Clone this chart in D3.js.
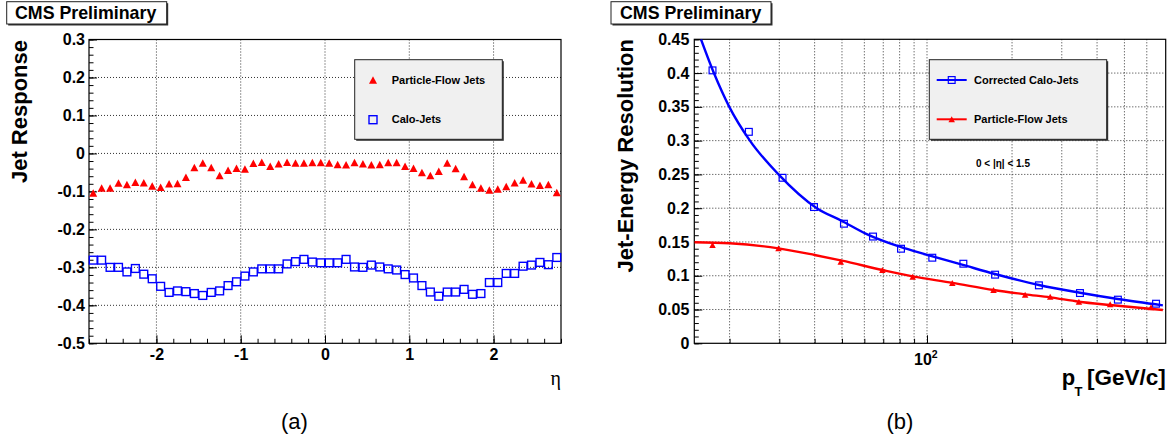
<!DOCTYPE html>
<html>
<head>
<meta charset="utf-8">
<script src="https://cdn.jsdelivr.net/npm/d3@7"></script>
<style>
  body { margin: 0; background: #fff; }
  svg { display: block; }
  text { font-family: "Liberation Sans", Arial, Helvetica, sans-serif; }
</style>
</head>
<body>
<svg id="chart" width="1172" height="441"></svg>
<script>
// ---------- panel (a): jet response vs eta ----------
const etaBins = [
  -2.75, -2.65, -2.55, -2.45, -2.35, -2.25, -2.15, -2.05, -1.95, -1.85,
  -1.75, -1.65, -1.55, -1.45, -1.35, -1.25, -1.15, -1.05, -0.95, -0.85,
  -0.75, -0.65, -0.55, -0.45, -0.35, -0.25, -0.15, -0.05,
   0.05,  0.15,  0.25,  0.35,  0.45,  0.55,  0.65,  0.75,  0.85,  0.95,
   1.05,  1.15,  1.25,  1.35,  1.45,  1.55,  1.65,  1.75,  1.85,  1.95,
   2.05,  2.15,  2.25,  2.35,  2.45,  2.55,  2.65,  2.75
];
const pfResponse = [
  -0.104, -0.091, -0.091, -0.078, -0.082, -0.076, -0.077, -0.086, -0.089, -0.080,
  -0.079, -0.063, -0.037, -0.025, -0.037, -0.058, -0.044, -0.039, -0.041, -0.026,
  -0.023, -0.034, -0.027, -0.023, -0.025, -0.025, -0.024, -0.024,
  -0.025, -0.029, -0.030, -0.024, -0.027, -0.030, -0.029, -0.024, -0.024, -0.034,
  -0.039, -0.050, -0.058, -0.047, -0.025, -0.040, -0.061, -0.082, -0.091, -0.096,
  -0.094, -0.087, -0.077, -0.070, -0.080, -0.084, -0.082, -0.103
];
const caloResponse = [
  -0.281, -0.281, -0.300, -0.300, -0.312, -0.303, -0.318, -0.330, -0.350, -0.366,
  -0.362, -0.364, -0.369, -0.374, -0.366, -0.362, -0.348, -0.338, -0.323, -0.312,
  -0.304, -0.304, -0.304, -0.291, -0.285, -0.279, -0.286, -0.288,
  -0.288, -0.288, -0.279, -0.299, -0.300, -0.294, -0.299, -0.304, -0.307, -0.319,
  -0.328, -0.348, -0.365, -0.376, -0.365, -0.365, -0.358, -0.371, -0.369, -0.340,
  -0.340, -0.316, -0.316, -0.297, -0.294, -0.287, -0.293, -0.274
];
const respTicks = [-0.5, -0.4, -0.3, -0.2, -0.1, 0, 0.1, 0.2, 0.3];
const respTickLabels = ["-0.5", "-0.4", "-0.3", "-0.2", "-0.1", "0", "0.1", "0.2", "0.3"];
const etaTicks = [-2, -1, 0, 1, 2];
const etaTickLabels = ["-2", "-1", "0", "1", "2"];

// ---------- panel (b): jet energy resolution vs pT ----------
const caloPt  = [17.4, 23.4, 30.8, 39.8, 50.8, 64.4, 80.9, 104.4, 134.5, 174.2, 249, 348, 474, 647];
const caloRes = [0.404, 0.313, 0.245, 0.2017, 0.177, 0.158, 0.140, 0.1267, 0.1178, 0.1016, 0.0858, 0.0744, 0.0646, 0.0586];
const pfPt  = [17.4, 29.8, 49.5, 69.5, 89, 122.9, 172, 222.5, 273, 345, 445, 621];
const pfRes = [0.1455, 0.1406, 0.1208, 0.1085, 0.0986, 0.0893, 0.0789, 0.072, 0.069, 0.0616, 0.0577, 0.0533];
// fitted resolution curves
const caloFitPt  = [15.84, 17.6, 19.95, 23.6, 29.8, 40.7, 50, 60.9, 80, 100, 134, 174, 249, 348, 474, 684];
const caloFitRes = [0.45, 0.40, 0.35, 0.30, 0.25, 0.20, 0.181, 0.162, 0.143, 0.131, 0.116, 0.1026, 0.0863, 0.0749, 0.0656, 0.0562];
const pfFitPt  = [15, 20, 29.8, 40, 50, 69.5, 89, 123, 172, 222.5, 273, 345, 445, 684];
const pfFitRes = [0.1495, 0.148, 0.1406, 0.1307, 0.1223, 0.1085, 0.099, 0.0895, 0.0789, 0.0725, 0.068, 0.0616, 0.0567, 0.0493];
const resTicks = [0, 0.05, 0.1, 0.15, 0.2, 0.25, 0.3, 0.35, 0.4, 0.45];
const resTickLabels = ["0", "0.05", "0.1", "0.15", "0.2", "0.25", "0.3", "0.35", "0.4", "0.45"];
const ptMajorTicks = [100];
const ptMinorTicks = [20, 30, 40, 50, 60, 70, 80, 90, 200, 300, 400, 500, 600];

const RED = "#ff0000", BLUE = "#0000ff";
const FONT = '"Liberation Sans", Arial, Helvetica, sans-serif';
const TICK_FONT = 16;

const svg = d3.select("#chart");

function triPath(cx, cy, w, h) {
  return `M${cx},${cy - h / 2}L${cx - w / 2},${cy + h / 2}L${cx + w / 2},${cy + h / 2}Z`;
}

function styleAxis(g, size) {
  g.select(".domain").remove();
  g.selectAll("line").attr("stroke", "#000").attr("stroke-width", 1);
  g.selectAll("text")
    .attr("fill", "#000")
    .style("font-family", FONT)
    .style("font-weight", "bold")
    .style("font-size", size + "px");
}

function shadowBox(x, y, w, h, fill) {
  svg.append("rect").attr("x", x + 1.5).attr("y", y + 1.5).attr("width", w).attr("height", h)
    .attr("fill", "#333");
  svg.append("rect").attr("x", x).attr("y", y).attr("width", w).attr("height", h)
    .attr("fill", fill).attr("stroke", "#222").attr("stroke-width", 1);
}

function gridLine(g, x1, y1, x2, y2) {
  g.append("line").attr("x1", x1).attr("y1", y1).attr("x2", x2).attr("y2", y2)
    .attr("stroke", "#333").attr("stroke-width", 1).attr("stroke-dasharray", "1,2");
}

// ================= panel (a) =================
const xL = d3.scaleLinear().domain([-2.8, 2.8]).range([89, 561]);
const yL = d3.scaleLinear().domain([-0.5, 0.3]).range([343.3, 39.5]);

const gridA = svg.append("g");
etaTicks.forEach(t => gridLine(gridA, xL(t), yL.range()[1], xL(t), yL.range()[0]));
respTicks.slice(1, -1).forEach(t => gridLine(gridA, xL.range()[0], yL(t), xL.range()[1], yL(t)));

// minor ticks
svg.append("g").attr("transform", `translate(${xL.range()[0]},0)`)
  .call(d3.axisLeft(yL).tickValues(yL.ticks(40)).tickFormat("").tickSizeInner(-4.5).tickSizeOuter(0))
  .call(g => styleAxis(g, TICK_FONT));
svg.append("g").attr("transform", `translate(0,${yL.range()[0]})`)
  .call(d3.axisBottom(xL).tickValues(xL.ticks(28)).tickFormat("").tickSizeInner(-4.5).tickSizeOuter(0))
  .call(g => styleAxis(g, TICK_FONT));
// major ticks with labels
svg.append("g").attr("transform", `translate(${xL.range()[0]},0)`)
  .call(d3.axisLeft(yL).tickValues(respTicks).tickFormat((d, i) => respTickLabels[i])
    .tickSizeInner(-8).tickSizeOuter(0).tickPadding(4))
  .call(g => styleAxis(g, TICK_FONT));
svg.append("g").attr("transform", `translate(0,${yL.range()[0]})`)
  .call(d3.axisBottom(xL).tickValues(etaTicks).tickFormat((d, i) => etaTickLabels[i])
    .tickSizeInner(-8).tickSizeOuter(0).tickPadding(5.5))
  .call(g => styleAxis(g, TICK_FONT));

// frame
svg.append("rect").attr("x", xL.range()[0]).attr("y", yL.range()[1])
  .attr("width", xL.range()[1] - xL.range()[0]).attr("height", yL.range()[0] - yL.range()[1])
  .attr("fill", "none").attr("stroke", "#000").attr("stroke-width", 1.2);

// calo squares
svg.append("g").selectAll("rect").data(etaBins).join("rect")
  .attr("x", (d, i) => xL(d) - 3.9).attr("y", (d, i) => yL(caloResponse[i]) - 3.9)
  .attr("width", 7.8).attr("height", 7.8)
  .attr("fill", "none").attr("stroke", BLUE).attr("stroke-width", 1.4);
// particle-flow triangles
svg.append("g").selectAll("path").data(etaBins).join("path")
  .attr("d", (d, i) => triPath(xL(d), yL(pfResponse[i]), 8, 7.5))
  .attr("fill", RED);

// legend (a)
shadowBox(354.7, 59.7, 147.6, 79.6, "#f0f0f0");
svg.append("path").attr("d", triPath(373, 80, 8, 7.5)).attr("fill", RED);
svg.append("rect").attr("x", 369).attr("y", 115.7).attr("width", 8).attr("height", 8)
  .attr("fill", "none").attr("stroke", BLUE).attr("stroke-width", 1.4);
svg.append("text").attr("x", 391.7).attr("y", 84).text("Particle-Flow Jets")
  .style("font-weight", "bold").style("font-size", "11px");
svg.append("text").attr("x", 391.7).attr("y", 123.3).text("Calo-Jets")
  .style("font-weight", "bold").style("font-size", "11px");

// axis titles (a)
svg.append("text").attr("transform", "translate(27,40) rotate(-90)")
  .attr("text-anchor", "end").text("Jet Response")
  .style("font-weight", "bold").style("font-size", "22px");
svg.append("text").attr("x", 561).attr("y", 385).attr("text-anchor", "end").text("η")
  .style("font-family", '"Liberation Serif", "DejaVu Serif", serif').style("font-size", "20px");

// ================= panel (b) =================
const xR = d3.scaleLog().domain([15, 700]).range([694.3, 1165.7]);
const yR = d3.scaleLinear().domain([0, 0.45]).range([343.3, 39.3]);

const gridB = svg.append("g");
ptMinorTicks.concat(ptMajorTicks).forEach(t => gridLine(gridB, xR(t), yR.range()[1], xR(t), yR.range()[0]));
resTicks.slice(1, -1).forEach(t => gridLine(gridB, xR.range()[0], yR(t), xR.range()[1], yR(t)));

svg.append("g").attr("transform", `translate(${xR.range()[0]},0)`)
  .call(d3.axisLeft(yR).tickValues(yR.ticks(45)).tickFormat("").tickSizeInner(-4.5).tickSizeOuter(0))
  .call(g => styleAxis(g, TICK_FONT));
svg.append("g").attr("transform", `translate(${xR.range()[0]},0)`)
  .call(d3.axisLeft(yR).tickValues(resTicks).tickFormat((d, i) => resTickLabels[i])
    .tickSizeInner(-8).tickSizeOuter(0).tickPadding(5))
  .call(g => styleAxis(g, TICK_FONT));
svg.append("g").attr("transform", `translate(0,${yR.range()[0]})`)
  .call(d3.axisBottom(xR).tickValues(ptMinorTicks).tickFormat("").tickSizeInner(-4.5).tickSizeOuter(0))
  .call(g => styleAxis(g, TICK_FONT));
svg.append("g").attr("transform", `translate(0,${yR.range()[0]})`)
  .call(d3.axisBottom(xR).tickValues(ptMajorTicks).tickFormat("").tickSizeInner(-8).tickSizeOuter(0))
  .call(g => styleAxis(g, TICK_FONT));

// 10^2 tick label
const lab = svg.append("text").attr("x", xR(100) - 13).attr("y", 365)
  .style("font-weight", "bold").style("font-size", TICK_FONT + "px");
lab.append("tspan").text("10");
lab.append("tspan").attr("dy", -7).style("font-size", "10.5px").text("2");

svg.append("rect").attr("x", xR.range()[0]).attr("y", yR.range()[1])
  .attr("width", xR.range()[1] - xR.range()[0]).attr("height", yR.range()[0] - yR.range()[1])
  .attr("fill", "none").attr("stroke", "#000").attr("stroke-width", 1.2);

// fit curves, clipped to the frame
svg.append("clipPath").attr("id", "clipB").append("rect")
  .attr("x", xR.range()[0]).attr("y", yR.range()[1])
  .attr("width", xR.range()[1] - xR.range()[0]).attr("height", yR.range()[0] - yR.range()[1]);
const lineR = d3.line().x(d => xR(d[0])).y(d => yR(d[1])).curve(d3.curveMonotoneX);
svg.append("path").attr("clip-path", "url(#clipB)")
  .attr("d", lineR(caloFitPt.map((p, i) => [p, caloFitRes[i]])))
  .attr("fill", "none").attr("stroke", BLUE).attr("stroke-width", 2.4);
svg.append("path").attr("clip-path", "url(#clipB)")
  .attr("d", lineR(pfFitPt.map((p, i) => [p, pfFitRes[i]])))
  .attr("fill", "none").attr("stroke", RED).attr("stroke-width", 2.4);

svg.append("g").selectAll("rect").data(caloPt).join("rect")
  .attr("x", d => xR(d) - 3.4).attr("y", (d, i) => yR(caloRes[i]) - 3.4)
  .attr("width", 6.8).attr("height", 6.8)
  .attr("fill", "none").attr("stroke", BLUE).attr("stroke-width", 1.2);
svg.append("g").selectAll("path").data(pfPt).join("path")
  .attr("d", (d, i) => triPath(xR(d), yR(pfRes[i]), 6.5, 6))
  .attr("fill", RED);

// legend (b)
shadowBox(929.3, 59.7, 177.4, 79.6, "#f0f0f0");
svg.append("line").attr("x1", 936.7).attr("x2", 966.7).attr("y1", 80).attr("y2", 80)
  .attr("stroke", BLUE).attr("stroke-width", 2);
svg.append("rect").attr("x", 948.3).attr("y", 76.6).attr("width", 6.8).attr("height", 6.8)
  .attr("fill", "none").attr("stroke", BLUE).attr("stroke-width", 1.2);
svg.append("line").attr("x1", 936.7).attr("x2", 966.7).attr("y1", 119.3).attr("y2", 119.3)
  .attr("stroke", RED).attr("stroke-width", 2);
svg.append("path").attr("d", triPath(951.7, 119.3, 6.5, 6)).attr("fill", RED);
svg.append("text").attr("x", 974).attr("y", 84).text("Corrected Calo-Jets")
  .style("font-weight", "bold").style("font-size", "11px");
svg.append("text").attr("x", 974).attr("y", 123.3).text("Particle-Flow Jets")
  .style("font-weight", "bold").style("font-size", "11px");
svg.append("text").attr("x", 976).attr("y", 166.5).text("0 < |η| < 1.5")
  .style("font-weight", "bold").style("font-size", "10px");

// axis titles (b)
svg.append("text").attr("transform", "translate(633,39) rotate(-90)")
  .attr("text-anchor", "end").text("Jet-Energy Resolution")
  .style("font-weight", "bold").style("font-size", "22px");
svg.append("text").attr("x", 1061.7).attr("y", 385).text("p")
  .style("font-weight", "bold").style("font-size", "22px");
svg.append("text").attr("x", 1074.5).attr("y", 396).text("T")
  .style("font-weight", "bold").style("font-size", "13px");
svg.append("text").attr("x", 1165.7).attr("y", 385).attr("text-anchor", "end").text("[GeV/c]")
  .style("font-weight", "bold").style("font-size", "22.5px");

// ================= header boxes and captions =================
[[6.7, 15], [611, 620]].forEach(([bx, tx]) => {
  shadowBox(bx, 1.7, 160, 22.3, "#fff");
  svg.append("text").attr("x", tx).attr("y", 19.3).text("CMS Preliminary")
    .style("font-weight", "bold").style("font-size", "17.8px");
});
svg.append("text").attr("x", 294.5).attr("y", 428.5).attr("text-anchor", "middle").text("(a)")
  .style("font-size", "22px");
svg.append("text").attr("x", 900).attr("y", 428.5).attr("text-anchor", "middle").text("(b)")
  .style("font-size", "22px");
</script>
</body>
</html>
